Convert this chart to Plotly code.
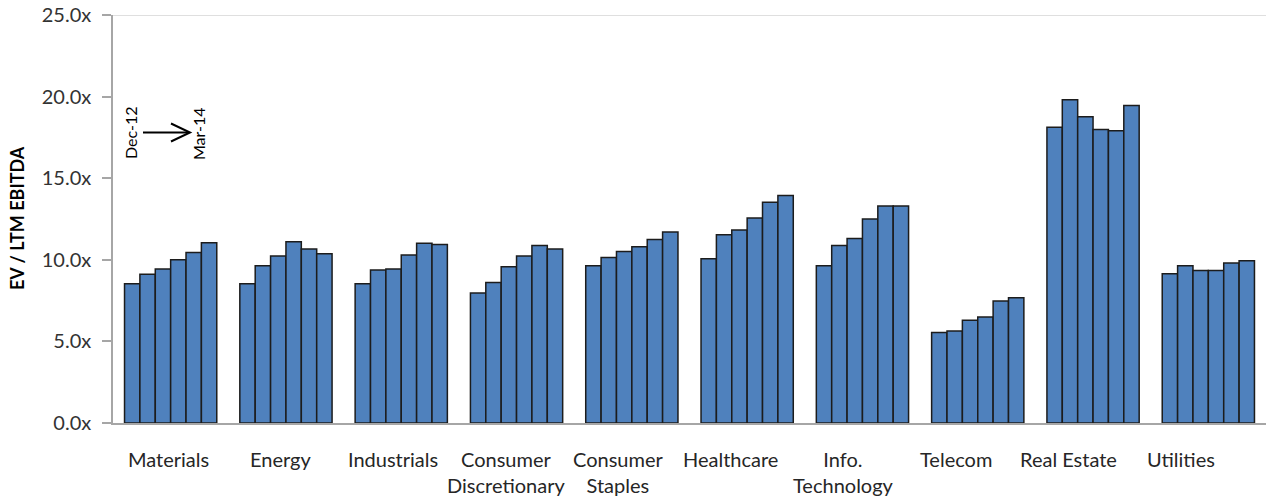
import plotly.graph_objects as go

categories = ["Materials", "Energy", "Industrials", "Consumer<br>Discretionary", "Consumer<br>Staples",
              "Healthcare", "Info.<br>Technology", "Telecom", "Real Estate", "Utilities"]
periods = ["Dec-12", "Mar-13", "Jun-13", "Sep-13", "Dec-13", "Mar-14"]

dec12 = [8.53, 8.53, 8.53, 7.96, 9.63, 10.06, 9.63, 5.54, 18.12, 9.14]
mar13 = [9.12, 9.63, 9.37, 8.61, 10.14, 11.53, 10.88, 5.63, 19.80, 9.63]
jun13 = [9.43, 10.23, 9.43, 9.57, 10.51, 11.82, 11.31, 6.30, 18.77, 9.34]
sep13 = [10.00, 11.10, 10.29, 10.23, 10.80, 12.56, 12.50, 6.50, 17.98, 9.34]
dec13 = [10.45, 10.66, 11.02, 10.88, 11.25, 13.52, 13.29, 7.47, 17.90, 9.80]
mar14 = [11.04, 10.37, 10.94, 10.66, 11.70, 13.94, 13.29, 7.67, 19.45, 9.94]
series = [dec12, mar13, jun13, sep13, dec13, mar14]

y_ticks = [0, 5, 10, 15, 20, 25]
y_ticktext = ["0.0x", "5.0x", "10.0x", "15.0x", "20.0x", "25.0x"]

FONT = "Lato"
ML, MR, MT, MB = 113, 1, 15, 77
WIDTH, HEIGHT = 1267, 500
W, H = WIDTH - ML - MR, HEIGHT - MT - MB


def px(xp):
    return (xp - ML) / W


def py(yp):
    return (HEIGHT - MB - yp) / H


fig = go.Figure()
for name, vals in zip(periods, series):
    fig.add_trace(go.Bar(
        x=list(range(len(categories))), y=vals, name=name,
        marker=dict(color="#4F81BD", line=dict(color="#1c1c1c", width=1.5)),
    ))

fig.update_layout(
    width=WIDTH, height=HEIGHT,
    margin=dict(l=ML, r=MR, t=MT, b=MB),
    plot_bgcolor="white", paper_bgcolor="white",
    barmode="group", bargap=0.2, bargroupgap=0,
    showlegend=False,
    font=dict(family=FONT, size=16, color="#262626"),
    xaxis=dict(
        range=[-0.5, len(categories) - 0.5],
        showline=True, linecolor="#a6a6a6", linewidth=1.5,
        showticklabels=False, ticks="",
        showgrid=False, zeroline=False, fixedrange=True,
    ),
    yaxis=dict(
        range=[0, 25], tickvals=y_ticks, ticktext=y_ticktext,
        showline=True, linecolor="#a6a6a6", linewidth=1.5,
        ticks="outside", ticklen=9, tickcolor="#a6a6a6", tickwidth=1.5,
        ticklabelstandoff=7,
        showgrid=False, zeroline=False,
        tickfont=dict(family=FONT, size=20, color="#333333"),
    ),
)

fig.add_shape(type="line", xref="paper", yref="y", x0=0, x1=1, y0=25, y1=25,
              line=dict(color="#bfbfbf", width=1.2))

# y-axis title
fig.add_annotation(x=px(17), y=py(218), xref="paper", yref="paper", text="<b>EV / LTM EBITDA</b>",
                   showarrow=False, xanchor="center", yanchor="middle", textangle=-90,
                   font=dict(family=FONT, size=18, color="#000000"))

# category labels (evenly spaced as in the original, independent of bar centres)
label_x0, label_pitch = 168, 112.5
for i, lab in enumerate(categories):
    fig.add_annotation(x=px(label_x0 + i * label_pitch), y=py(446), xref="paper", yref="paper",
                       text=lab, showarrow=False, xanchor="center", yanchor="top", align="center",
                       borderpad=0, font=dict(family=FONT, size=20, color="#262626"))

# Dec-12 -> Mar-14 annotation
fig.add_annotation(x=px(130), y=py(133), xref="paper", yref="paper", text="Dec-12", showarrow=False,
                   xanchor="center", yanchor="middle",
                   textangle=-90, font=dict(family=FONT, size=16, color="#000"))
fig.add_annotation(x=px(198), y=py(134), xref="paper", yref="paper", text="Mar-14", showarrow=False,
                   xanchor="center", yanchor="middle",
                   textangle=-90, font=dict(family=FONT, size=16, color="#000"))
fig.add_shape(type="line", xref="paper", yref="paper",
              x0=px(143), y0=py(132.5), x1=px(189), y1=py(132.5),
              line=dict(color="#000", width=2))
fig.add_shape(type="path", xref="paper", yref="paper",
              path=f"M {px(171)},{py(123.5)} L {px(190)},{py(132.5)} L {px(171)},{py(141.5)}",
              line=dict(color="#000", width=2))

fig.write_html("out.html")
